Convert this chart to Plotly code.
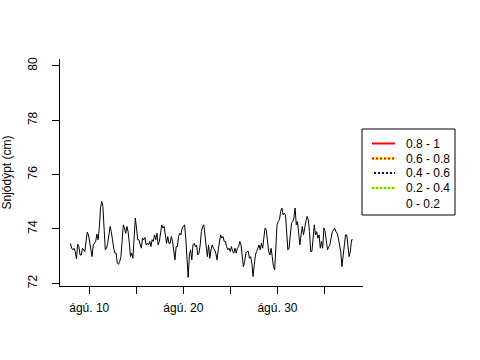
import pandas as pd
import plotly.graph_objects as go

# Snow depth readings (cm), in time order
depth = [
    73.47, 73.29, 73.23, 73.29, 73.17, 72.90, 73.44, 73.35, 73.04, 73.04, 73.29, 73.23, 73.17,
    73.54, 73.88, 73.78, 73.54, 73.29, 72.98, 73.41, 73.47, 73.54, 73.81, 73.60, 74.03, 74.77,
    75.01, 74.83, 74.03, 73.23, 73.29, 73.47, 73.78, 74.09, 73.90, 73.47, 73.29, 73.11, 73.11,
    72.74, 72.70, 72.80, 72.98,
    73.54, 74.15, 74.03, 73.84, 74.09, 73.90, 73.47, 72.98, 73.11, 72.92, 73.66, 74.40, 74.03,
    73.60, 73.60, 73.41, 73.29, 73.66, 73.60, 73.68, 73.41, 73.47, 73.41, 73.54, 73.35, 73.60,
    73.54, 73.78, 73.60, 73.84, 73.41, 73.54, 73.90, 74.15, 74.03, 74.09, 73.78, 73.47, 73.72,
    73.47, 73.47, 73.72, 73.54, 73.23, 72.86, 73.35, 73.35,
    73.72, 73.84, 73.78, 74.03, 74.09, 74.15, 73.66, 72.80, 72.21, 73.04, 73.23, 72.86, 73.41,
    73.47, 73.35, 73.41, 73.04, 73.11, 73.41, 73.90, 74.09, 74.15, 73.78, 73.23, 72.98, 73.41,
    72.92, 73.23, 73.41, 73.29, 73.23, 73.11, 72.86, 73.23, 73.54, 73.78, 73.66, 73.72, 73.54,
    73.54, 73.35, 73.23, 73.29, 73.17, 73.35, 73.17, 73.11, 73.29, 73.11, 73.29, 73.35,
    73.54, 73.41, 72.98, 72.61, 72.80, 73.11, 73.17, 73.17, 72.92, 72.98, 72.74, 72.25, 72.68,
    73.04, 73.17, 73.29, 73.41, 73.23, 73.47, 73.29, 73.66, 74.03, 73.97, 73.54, 73.17, 73.04,
    73.29, 72.98, 72.61, 72.49, 73.17, 74.15, 74.27, 74.34, 74.64, 74.77, 74.52, 74.58, 74.52,
    73.90, 73.23, 73.29, 73.78, 74.21, 74.27, 74.40, 74.77,
    74.15, 74.27, 73.72, 73.41, 73.78, 74.09, 73.78, 74.09, 74.27, 74.46, 74.34, 73.90, 73.17,
    73.17, 73.66, 74.15, 73.78, 73.90, 73.66, 73.78, 73.29, 73.54, 73.29, 74.03, 73.90, 73.54,
    73.23, 73.35, 73.41, 73.66, 73.90, 73.97, 74.03, 73.90, 73.84, 73.66, 73.41, 73.17, 72.61,
    73.04, 73.41, 73.78, 73.78, 73.29, 72.98, 73.17, 73.60, 73.60,
]
start_time = "2012-08-08 00:00"
end_time = "2012-09-07 00:00"

tick_dates = ["2012-08-10", "2012-08-15", "2012-08-20", "2012-08-25", "2012-08-30", "2012-09-04"]
tick_labels = ["ágú. 10", "", "ágú. 20", "", "ágú. 30", ""]
y_ticks = [72, 74, 76, 78, 80]

legend_labels = ["0.8 - 1", "0.6 - 0.8", "0.4 - 0.6", "0.2 - 0.4", "0 - 0.2"]
# (base colour, overlay colour) for each legend sample; None = no line
legend_base = ["#FF0000", "#FFFF00", "#0000FF", "#FFFF00", None]
legend_over = [None, "#FF0000", "#FFFF66", "#33DD00", None]

times = pd.date_range(start_time, end_time, periods=len(depth))

fig = go.Figure()
fig.add_trace(go.Scatter(x=times, y=depth, mode="lines",
                         line=dict(color="black", width=1), showlegend=False,
                         hoverinfo="skip"))

# Layout geometry (pixels)
W, H = 480, 360
ML, MR, MT, MB = 60, 117, 59, 74
pw, ph = W - ML - MR, H - MT - MB
def px(x):
    return (x - ML) / pw
def py(y):
    return (H - MB - y) / ph

shapes = [dict(type="rect", xref="paper", yref="paper",
               x0=px(362), x1=px(455), y0=py(215), y1=py(129),
               line=dict(color="black", width=1), fillcolor="white", layer="above")]
annotations = []
row_y = [143.5, 158.5, 173, 188, 203.5]
for lab, base, over, ry in zip(legend_labels, legend_base, legend_over, row_y):
    if base:
        shapes.append(dict(type="line", xref="paper", yref="paper",
                           x0=px(372), x1=px(395), y0=py(ry), y1=py(ry),
                           line=dict(color=base, width=2), layer="above"))
    if over:
        shapes.append(dict(type="line", xref="paper", yref="paper",
                           x0=px(372), x1=px(395), y0=py(ry), y1=py(ry),
                           line=dict(color=over, width=2, dash="2px,2px"), layer="above"))
    annotations.append(dict(xref="paper", yref="paper", x=px(404), y=py(ry),
                            xanchor="left", yanchor="middle", text=lab, showarrow=False,
                            font=dict(size=12, color="black")))

font = "Liberation Sans, Arial, sans-serif"
fig.update_layout(
    width=W, height=H,
    margin=dict(l=ML, r=MR, t=MT, b=MB, autoexpand=False),
    paper_bgcolor="white", plot_bgcolor="white",
    font=dict(family=font, size=12, color="black"),
    showlegend=False,
    shapes=shapes, annotations=annotations,
)
fig.update_xaxes(
    type="date", automargin=False,
    range=["2012-08-06 21:20", "2012-09-08 02:10"],
    tickmode="array", tickvals=tick_dates, ticktext=tick_labels,
    showline=True, linecolor="black", linewidth=1,
    ticks="outside", ticklen=7, tickcolor="black", ticklabelstandoff=4,
    showgrid=False, zeroline=False,
)
fig.update_yaxes(
    automargin=False,
    range=[71.9, 80.25],
    tickmode="array", tickvals=y_ticks, ticktext=[str(v) for v in y_ticks],
    tickangle=-90,
    showline=True, linecolor="black", linewidth=1,
    ticks="outside", ticklen=7, tickcolor="black", ticklabelstandoff=10,
    showgrid=False, zeroline=False,
    title=dict(text="Snjódýpt (cm)", font=dict(size=12), standoff=16),
)
fig.write_html("out.html", config={"displayModeBar": False},
               post_script="document.body.style.margin='0';")
